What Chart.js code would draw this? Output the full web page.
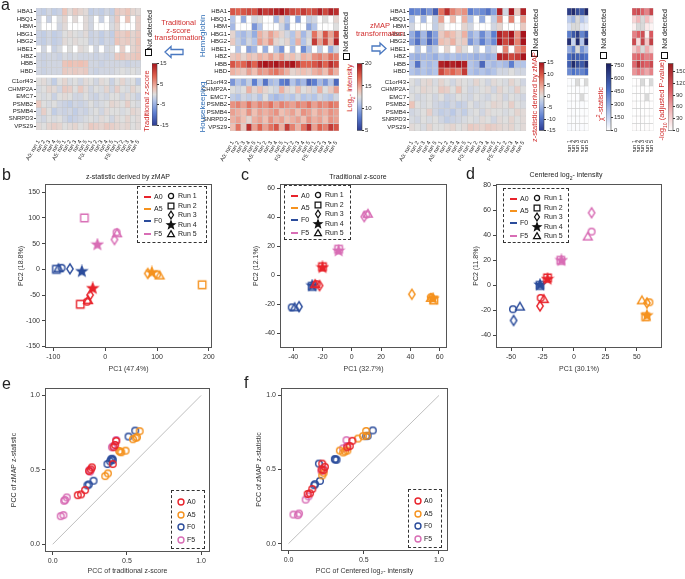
<!DOCTYPE html>
<html>
<head>
<meta charset="utf-8">
<script src="https://cdn.jsdelivr.net/npm/chart.js@4/dist/chart.umd.min.js"></script>
<style>
body{margin:0;width:685px;height:579px;position:relative;overflow:hidden;background:#fff;font-family:"Liberation Sans",Arial,sans-serif;}
canvas{position:absolute;}
.t{position:absolute;white-space:nowrap;font-size:7px;color:#222;line-height:1;}
.lg{position:absolute;border:1px dashed #333;box-sizing:border-box;}
.nd{position:absolute;width:5px;height:5px;border:1px solid #111;background:#fff;}
</style>
</head>
<body>
<script>
// ---- heatmap data (panel a) ----
const cols = ['A0: run 1','run 2','run 3','run 4','run 5','A5: run 1','run 2','run 3','run 4','run 5',
              'F0: run 1','run 2','run 3','run 4','run 5','F5: run 1','run 2','run 3','run 4','run 5'];
const runs = ['run 1','run 2','run 3','run 4','run 5'];
const hemoGenes = ['HBA1','HBQ1','HBM','HBG1','HBG2','HBE1','HBZ','HBB','HBD'];
const houseGenes = ['C1orf43','CHMP2A','EMC7','PSMB2','PSMB4','SNRPD3','VPS29'];

const tradHemo = [
  [-1.5,-2,-1,-2,-1.5, 2.5,0.5,2,1,0.5, -2,-1.5,-2,-1,-2, 2,1.5,2.5,1,0.5],
  [-1,null,-1.5,null,-0.5, 1,null,0.5,null,0.5, -1,null,-1.5,null,-1, 2,null,2.5,null,1.5],
  [-0.5,null,null,null,-1, 0.5,null,null,null,0.5, -1,null,null,null,-0.5, 1,null,null,null,1.5],
  [-1.5,-2,-1,-2,-1.5, 0,0.5,0,-0.5,0.5, -1.5,-1,-2,-1,-2, 2,1.5,2.5,1,2],
  [-1.5,-2,-1,-2,-1.5, 0.5,0,0.5,0,0, -1.5,-1,-2,-1,-1.5, 2.5,1.5,2,1,2.5],
  [null,-1,null,-1.5,-0.5, null,0,null,0.5,0, null,-1,null,-1,-0.5, null,1.5,null,1,2],
  [-1,-1.5,-1,-1,-1.5, -0.5,-1,-0.5,-1,-1, -1,-1.5,-1,-1.5,-1, 2,2.5,1.5,2,2.5],
  [-1,-1.5,-1,-1,-1, 2.5,3,2.5,3,2.5, -1,-1,-1.5,-1,-1, -1,-1,-1.5,-1,-1],
  [-1,-1.5,-1,-1,-1, 2,1.5,2,1.5,2, -1,-1.5,-1,-1,-1, -0.5,0,-0.5,0,-0.5]
];
const tradHouse = [
  [0,0.5,-0.5,-2,0, 1,-0.5,0,-1,0.5, 0,-1,0.5,0,-1.5, 0,1,-0.5,0,-2],
  [-0.5,0,1,0.5,-1, 2,1.5,0,2,0.5, -1,0,-0.5,1,-1, 1.5,0,-0.5,1,0],
  [0,-0.5,0,-1.5,0, 0.5,0,-1,-1,0, -1,-1.5,-0.5,-1,0, 0,-1,0.5,-0.5,-1.5],
  [2,0,-0.5,0,-1, -1.5,-2,-1,-1.5,-1, 0,-1,-0.5,0,1, 0.5,0,1.5,0,-0.5],
  [-1,1.5,0,-2,-1, -1.5,-1,-2,-1,-1.5, -0.5,0,-1,0.5,0, 0,-0.5,0,1,0.5],
  [-0.5,-1,0,-0.5,0, -1,-2,-1.5,-1,-0.5, 0,-0.5,0.5,0,-1, 0.5,0,1,0,0.5],
  [0.5,0,1,1.5,1, 0,0.5,1,0,0.5, 2,1.5,1,2,1.5, 1,0.5,1,0,0.5]
];
const intHemo = [
  [17.5,17,17.5,18,17.5, 19.5,18.5,19,19.5,20, 19,18,17.5,18.5,17.5, 18,19.5,18,19.5,19],
  [11,null,10,null,12, 12.5,null,null,10.5,13, 11,null,9.5,null,11.5, 12,null,12.5,null,13],
  [10.5,null,null,null,9, 11,null,null,null,12, 10,null,null,null,9.5, 11,null,null,null,12.5],
  [13,11,10.5,11.5,10, 14.5,13.5,15,14,13, 12,11,13.5,10.5,12, 16.5,14,17.5,15,18],
  [13.5,11.5,10.5,12,11, 15,14,15.5,13,12.5, 13,11,14.5,11,12.5, 18.5,15,18,14.5,19.5],
  [null,11,null,9.5,10.5, null,10,null,11,9, null,10.5,null,8.5,11, null,11.5,null,10,12],
  [13.5,14,13,14,13.5, 14.5,14,15,14,15, 13.5,14,13,14.5,14, 15.5,16,15,16.5,16],
  [17.5,16.5,17,18.5,17, 19.5,20,19.5,20,19, 19.5,20,18.5,17,17, 17.5,18.5,17,19,18],
  [14.5,14,13.5,15,14, 15.5,15,16,16.5,15.5, 14.5,13,13.5,14,13.5, 14.5,15,14,16,14.5]
];
const intHouse = [
  [9,11,10,11.5,8, 11,7.5,10.5,11,8, 7.5,11,9.5,10.5,7, 8,10.5,9,11,7],
  [12.5,12,12.5,14.5,13, 14,13,12.5,12,14.5, 13,12.5,14,12.5,13, 12,14.5,12.5,13.5,15],
  [11.5,11,12,11.5,12, 11,12.5,11,10.5,11, 11.5,11,12,11,11.5, 11,12,11.5,11,12],
  [15.5,16,15,16.5,15, 16,15.5,16.5,15,16, 15.5,15,16,15.5,16.5, 15,16,15.5,16.5,16],
  [15,14.5,14,15.5,14, 15,14.5,15,15.5,14, 14.5,15,14,15.5,15, 14,15,14.5,15.5,15],
  [14.5,15,14,13,14.5, 15,14,15.5,14.5,15, 14,14.5,15,14,15.5, 14.5,15,14,15.5,15],
  [14,16.5,13.5,19,15, 17,15,16.5,17.5,14.5, 18.5,16,14.5,16.5,19, 15,17,16,18.5,17.5]
];
const zHemo = [
  [-9,-8,-10,-7,-12, 8,13,7,5,6, -9,-7,-8,-10,-6, 14,-1,15,2,14],
  [-3,null,-4,null,-2, 5,null,3,null,4, -3,null,-5,null,-2, 6,null,7,null,5],
  [-1,null,null,null,-2, 0.5,null,null,null,1, -1,null,null,null,-1, 1,null,null,null,2],
  [-5,-9,-4,-10,-6, 2,4,3,1,4, -5,-3,-8,-4,-9, 14,12,15,6,15],
  [-6,-10,-5,-11,-7, 3,2,4,1,2, -7,-4,-9,-5,-8, 15,11,14,7,15],
  [null,-3,null,-4,-2, null,1,null,2,0, null,-2,null,-3,-1, null,7,null,6,8],
  [-4,-5,-4,-4,-5, -3,-4,-3,-4,-4, -4,-5,-4,-5,-4, 14,13,11,12,15],
  [-3,-10,-3,-4,-3, 14,15,14,15,14, -3,-4,-11,-3,-4, -3,-4,-9,-3,-3],
  [-3,-4,-3,-4,-3, 11,8,9,7,12, -3,-4,-3,-4,-3, -1,-1,0,-1,-1]
];
const zHouse = [
  [0,-1,0.5,1,-0.5, 1,0,-1,0.5,0, -0.5,1,0,-1,0.5, 0,-0.5,1,0,-1],
  [-0.5,0,1,0.5,0, 2,1.5,0,2.5,0, -1,-0.5,0,0.5,-1, 1,0,-0.5,1.5,0],
  [0,-1,-0.5,0,-1, 0,-1.5,-1,0,-0.5, -1,0,-0.5,-1,0, 0.5,-1,0,-0.5,-1],
  [2.5,0,-0.5,0,-1, -1.5,-2,-1,-2,-1.5, 0,-1,-0.5,0,1, 0.5,0,1.5,0,-0.5],
  [-1,-0.5,0,1.5,-1, -2,-1.5,-2.5,-1,-2, -0.5,0,-1,0.5,0, 0,-0.5,0,1,0.5],
  [-0.5,-1,0,-0.5,0, -1,-2,-1.5,-1,-0.5, 0,-0.5,0.5,0,-1, 0.5,0,1,0,0.5],
  [0.5,0,-0.5,1,0, 0,0.5,1,0,0.5, 2,1.5,1,2,1.5, 1,0.5,1,0,0.5]
];
const chiHemo = [
  [650,720,600,560,740],
  [180,250,null,200,120],
  [100,null,null,80,60],
  [420,550,650,400,550],
  [700,150,720,200,750],
  [280,400,null,350,250],
  [480,560,520,500,460],
  [520,720,600,550,700],
  [380,460,420,400,480]
];
const chiHouse = [
  [10,15,null,8,null],
  [5,8,10,6,12],
  [8,6,12,null,9],
  [12,6,8,10,5],
  [6,10,5,8,7],
  [9,7,11,6,8],
  [15,10,12,14,10]
];
const pHemo = [
  [110,120,100,80,125],
  [30,50,null,45,20],
  [10,null,null,15,8],
  [80,100,115,10,105],
  [120,25,125,40,130],
  [35,60,null,55,30],
  [90,100,95,80,85],
  [95,145,110,100,120],
  [70,85,75,60,80]
];
const pHouse = [
  [1,2,null,1,null],
  [0,1,1,0,2],
  [1,0,2,null,1],
  [2,0,1,1,0],
  [0,1,0,1,1],
  [1,1,2,0,1],
  [2,1,1,2,1]
];
const zTicks = [15,10,5,0,-5,-10,-15];
const intTicks = [20,15,10,5];
const chiTicks = [750,600,450,300,150,0];
const pTicks = [150,120,90,60,30,0];

// ---- PCA data (panels b-d), runs 1..5 per condition ----
const conds = ['A0','A5','F0','F5'];
const pcaB_A0 = [[-35,-63],[-48,-68],[-29,-50],[-24,-37],[-33,-60]];
const pcaB_A5 = [[100,-10],[187,-30],[82,-8],[90,-6],[105,-12]];
const pcaB_F0 = [[-84,3],[-94,0],[-68,1],[-45,-4],[-90,2]];
const pcaB_F5 = [[22,72],[-40,100],[18,58],[-15,48],[23,70]];
const pcaC_A0 = [[-24,-6],[-20,6],[-22,-7],[-20,5.5],[-25,-6]];
const pcaC_A5 = [[54,-15],[56,-17],[41,-13],[55.5,-16],[54,-15.5]];
const pcaC_F0 = [[-41,-22],[-27,-7.5],[-36,-21.5],[-27,-7],[-39,-22]];
const pcaC_F5 = [[10,42],[-9,18],[8.5,40.5],[-9,17],[11,42.5]];
const pcaD_A0 = [[-26.5,-10],[-21,6],[-27,-16.5],[-21,5],[-24,-11]];
const pcaD_A5 = [[60,-13.5],[57,-25],[58,-14],[58,-24],[54,-12]];
const pcaD_F0 = [[-48.5,-19],[-27,0],[-48,-28],[-27,0.5],[-43,-17]];
const pcaD_F5 = [[14,43],[-10.5,20],[14,58],[-10,20],[11,39]];

// ---- PCC data (panels e, f) ----
const pccE_A0 = [[.169,.330],[.191,.335],[.218,.364],[.245,.492],[.264,.517],[.257,.503],[.405,.539],[.410,.652],[.428,.694],[.421,.667]];
const pccE_A5 = [[.354,.458],[.372,.476],[.448,.627],[.462,.618],[.491,.629],[.541,.706],[.568,.719],[.586,.760],[.455,.622],[.559,.715]];
const pccE_F0 = [[.556,.764],[.511,.724],[.394,.571],[.405,.566],[.369,.539],[.275,.427],[.243,.402],[.234,.396],[.401,.575],[.387,.557]];
const pccE_F5 = [[.054,.189],[.072,.196],[.077,.292],[.095,.315],[.083,.297],[.252,.488],[.248,.499],[.399,.652],[.410,.661],[.428,.701]];
const pccF_A0 = [[.127,.335],[.143,.339],[.158,.368],[.224,.540],[.242,.518],[.220,.500],[.232,.495],[.407,.659],[.424,.694],[.391,.650]];
const pccF_A5 = [[.233,.478],[.224,.460],[.341,.628],[.363,.615],[.391,.628],[.462,.709],[.495,.725],[.516,.760],[.375,.622],[.520,.728]];
const pccF_F0 = [[.560,.764],[.516,.725],[.526,.727],[.308,.570],[.319,.566],[.202,.540],[.209,.423],[.176,.401],[.171,.394],[.312,.568]];
const pccF_F5 = [[.033,.196],[.062,.192],[.070,.203],[.114,.297],[.132,.319],[.220,.489],[.389,.659],[.385,.698],[.363,.643],[.235,.500]];
const diag = [[0,0],[1,1]];
const pccTicks = [0, 0.5, 1];

const colA0 = '#e8232b', colA5 = '#f5921e', colF0 = '#2b4c9b', colF5 = '#d86db5';
const condCols = [colA0, colA5, colF0, colF5];

Chart.defaults.font.family = '"Liberation Sans", Arial, sans-serif';
Chart.defaults.color = '#222';
Chart.defaults.animation = false;
Chart.defaults.responsive = false;
Chart.defaults.plugins.legend.display = false;
Chart.defaults.plugins.tooltip.enabled = false;

function addCanvas(left, top, w, h) {
  const c = document.createElement('canvas');
  c.width = w; c.height = h;
  c.style.left = left + 'px'; c.style.top = top + 'px';
  document.body.appendChild(c);
  return c.getContext('2d');
}

function hex(c) { return [1,3,5].map(i => parseInt(c.substr(i,2),16)); }
function ramp(stops) {
  return t => {
    t = Math.max(0, Math.min(1, t));
    for (let i = 1; i < stops.length; i++) {
      if (t <= stops[i][0]) {
        const a = hex(stops[i-1][1]), b = hex(stops[i][1]);
        const f = (t - stops[i-1][0]) / (stops[i][0] - stops[i-1][0]);
        return 'rgb(' + a.map((v,k) => Math.round(v + (b[k]-v)*f)).join(',') + ')';
      }
    }
    return stops[stops.length-1][1];
  };
}
const divStops = [[0,'#2c3c94'],[0.2,'#5d7ed0'],[0.4,'#b3c4e8'],[0.5,'#dedede'],[0.6,'#efbfb2'],[0.8,'#e0624f'],[1,'#a8141c']];
const blueStops = [[0,'#ffffff'],[0.3,'#a9bde8'],[0.6,'#4a6fc6'],[1,'#1a1f5e']];
const redStops = [[0,'#ffffff'],[0.3,'#f2b6b8'],[0.6,'#dc5b62'],[1,'#9c1b1f']];
const div = ramp(divStops), blues = ramp(blueStops), reds = ramp(redStops);

// row positions: hemoglobin block, small gap, housekeeping block
const rowPos = hemoGenes.map((g,i) => i).concat(houseGenes.map((g,i) => 9.4 + i));
const rowNames = hemoGenes.concat(houseGenes);

function heatmap(o) {
  const ctx = addCanvas(o.left, o.top, o.w, o.h);
  const rows = o.hemo.concat(o.house);
  new Chart(ctx, {
    type: 'bar',
    data: {
      labels: o.labels,
      datasets: rows.map((vals, r) => ({
        data: vals.map(() => [rowPos[r] - 0.5, rowPos[r] + 0.5]),
        backgroundColor: vals.map(v => v == null ? o.na : o.cmap(v)),
        borderColor: '#c4c4c4', borderWidth: 0.5, borderSkipped: false,
        barPercentage: 1, categoryPercentage: 1, grouped: false
      }))
    },
    options: {
      layout: { padding: { top: o.padT, right: o.padR, left: o.padL || 0 } },
      scales: {
        x: {
          grid: { display: false }, border: { display: false },
          ticks: { autoSkip: false, minRotation: o.rot, maxRotation: o.rot, font: { size: 5.5 }, padding: 1, color: '#222' },
          afterFit: s => { s.height = o.xH; }
        },
        y: {
          type: 'linear', reverse: true, min: -0.5, max: 15.9, display: o.yW > 0,
          grid: { drawOnChartArea: false, tickLength: 2, color: '#444' }, border: { display: false },
          afterBuildTicks: s => { s.ticks = rowPos.map(v => ({ value: v })); },
          ticks: { autoSkip: false, font: { size: 6 }, padding: 1, color: '#222', callback: (v, i) => rowNames[i] },
          afterFit: s => { s.width = o.yW; }
        }
      }
    }
  });
}

function colorbar(o) {
  const ctx = addCanvas(o.left, o.top, o.w, o.h);
  new Chart(ctx, {
    type: 'scatter',
    data: { datasets: [] },
    options: {
      layout: { padding: { top: 3, bottom: 3, left: 0 } },
      scales: {
        x: { display: false },
        y: {
          position: 'right', min: o.min, max: o.max,
          grid: { drawOnChartArea: false, tickLength: 2, color: '#333' }, border: { display: false },
          afterBuildTicks: s => { s.ticks = o.ticks.map(v => ({ value: v })); },
          ticks: { font: { size: 6 }, padding: 1, color: '#333' },
          afterFit: s => { s.width = o.w - 5; }
        }
      }
    },
    plugins: [{
      id: 'cbar',
      beforeDraw(chart) {
        const a = chart.chartArea, g = chart.ctx;
        const gr = g.createLinearGradient(0, a.bottom, 0, a.top);
        o.stops.forEach(s => gr.addColorStop(s[0], s[1]));
        g.save();
        g.fillStyle = gr;
        g.fillRect(a.left, a.top, a.right - a.left, a.bottom - a.top);
        g.strokeStyle = '#444'; g.lineWidth = 0.6;
        g.strokeRect(a.left, a.top, a.right - a.left, a.bottom - a.top);
        g.restore();
      }
    }]
  });
}

function marker(shape, color, k) {
  k = k || 1;
  const s = 14, m = s / 2, c = document.createElement('canvas');
  c.width = s; c.height = s;
  const g = c.getContext('2d');
  g.strokeStyle = color; g.fillStyle = color; g.lineWidth = 1.4 * Math.min(1, k + 0.1);
  g.beginPath();
  if (shape === 'circle') g.arc(m, m, 3.3 * k, 0, 2 * Math.PI);
  else if (shape === 'square') g.rect(m - 3.7 * k, m - 3.7 * k, 7.4 * k, 7.4 * k);
  else if (shape === 'diamond') { g.moveTo(m, m - 5 * k); g.lineTo(m + 3.2 * k, m); g.lineTo(m, m + 5 * k); g.lineTo(m - 3.2 * k, m); g.closePath(); }
  else if (shape === 'triangle') { g.moveTo(m, m - 4.3 * k); g.lineTo(m + 4.4 * k, m + 3.3 * k); g.lineTo(m - 4.4 * k, m + 3.3 * k); g.closePath(); }
  else if (shape === 'star') {
    for (let i = 0; i < 10; i++) {
      const r = (i % 2 ? 2.2 : 5.2) * k, a = -Math.PI / 2 + i * Math.PI / 5;
      g.lineTo(m + r * Math.cos(a), m + r * Math.sin(a));
    }
    g.closePath(); g.fill();
  }
  g.stroke();
  return c;
}
const runShapes = ['circle', 'square', 'diamond', 'star', 'triangle'];

const frame = {
  id: 'frame',
  afterDraw(c) {
    const a = c.chartArea, g = c.ctx;
    g.save(); g.strokeStyle = '#555'; g.lineWidth = 1;
    g.strokeRect(a.left + 0.5, a.top + 0.5, a.right - a.left - 1, a.bottom - a.top - 1);
    g.restore();
  }
};

function axis(r, t, title, dec, dir, size) {
  return {
    min: r[0], max: r[1],
    grid: { drawOnChartArea: false, tickLength: 3, color: '#444' }, border: { display: false },
    afterBuildTicks: s => { s.ticks = t.map(v => ({ value: v })); },
    ticks: { font: { size: 7 }, color: '#333', padding: 2, callback: v => dec ? v.toFixed(1) : v },
    title: { display: true, text: title, font: { size: 7 }, color: '#333', padding: { top: 2, bottom: 0 } },
    afterFit: s => { if (dir === 'x') s.height = size; else s.width = size; }
  };
}

function scatter(o) {
  const ctx = addCanvas(o.left, o.top, o.w, o.h);
  const datasets = o.sets.map((pts, k) => ({
    data: pts.map(p => ({ x: p[0], y: p[1] })),
    pointStyle: pts.map((p, i) => marker(o.shapes ? o.shapes[i] : 'circle', condCols[k])),
    pointRadius: 4, order: 1
  }));
  if (o.diag) datasets.push({
    data: o.diag.map(p => ({ x: p[0], y: p[1] })), showLine: true,
    borderColor: '#b8b8b8', borderWidth: 0.9, pointRadius: 0, order: 5
  });
  new Chart(ctx, {
    type: 'scatter',
    data: { datasets },
    options: {
      layout: { padding: { top: o.padT, right: o.padR, left: o.padL } },
      scales: {
        x: axis(o.xr, o.xt, o.xTitle, o.dec, 'x', o.xH),
        y: axis(o.yr, o.yt, o.yTitle, o.dec, 'y', o.yW)
      }
    },
    plugins: [frame]
  });
}

function text(html, left, top, css) {
  const d = document.createElement('div');
  d.className = 't'; d.innerHTML = html;
  d.style.left = left + 'px'; d.style.top = top + 'px';
  if (css) d.style.cssText += css;
  document.body.appendChild(d);
  return d;
}
function ctext(html, cx, cy, css) { return text(html, cx, cy, 'transform:translate(-50%,-50%);' + (css || '')); }
function vtext(html, cx, cy, css) { return text(html, cx, cy, 'transform:translate(-50%,-50%) rotate(-90deg);' + (css || '')); }
function ndBox(left, top) { const d = document.createElement('div'); d.className = 'nd'; d.style.left = left + 'px'; d.style.top = top + 'px'; document.body.appendChild(d); }

function pcaLegend(left, top, w, h) {
  const b = document.createElement('div');
  b.className = 'lg';
  b.style.cssText += `left:${left}px;top:${top}px;width:${w}px;height:${h}px;`;
  document.body.appendChild(b);
  const cy = [10, 21.5, 34, 46.5], ry = [9, 18.5, 28, 37.5, 47];
  conds.forEach((c, i) => {
    const l = document.createElement('div');
    l.style.cssText = `position:absolute;left:6px;top:${cy[i] - 1}px;width:7px;height:2px;background:${condCols[i]}`;
    b.appendChild(l);
    const t = text(c, 16, cy[i] - 4); b.appendChild(t);
  });
  runShapes.forEach((s, i) => {
    const m = marker(s, '#111', 0.78);
    m.style.left = (33 - 7) + 'px'; m.style.top = (ry[i] - 7) + 'px';
    b.appendChild(m);
    const t = text('Run ' + (i + 1), 40, ry[i] - 4); b.appendChild(t);
  });
}
function pccLegend(left, top) {
  const b = document.createElement('div');
  b.className = 'lg';
  b.style.cssText += `left:${left}px;top:${top}px;width:34px;height:59px;`;
  document.body.appendChild(b);
  const ys = [11, 23.5, 36, 48.5];
  conds.forEach((c, i) => {
    const m = marker('circle', condCols[i], 0.9);
    m.style.left = (9 - 7) + 'px'; m.style.top = (ys[i] - 7) + 'px';
    b.appendChild(m);
    const t = text(c, 15, ys[i] - 4); b.appendChild(t);
  });
}

// ---------- panel a ----------
heatmap({ left: 0, top: 2, w: 145, h: 160, yW: 36, padR: 2, padT: 6, xH: 32, rot: 60,
  labels: cols, hemo: tradHemo, house: tradHouse, cmap: v => div((v + 15) / 30), na: '#ffffff' });
heatmap({ left: 196, top: 2, w: 147, h: 160, yW: 34, padR: 2, padT: 6, xH: 31, rot: 60,
  labels: cols, hemo: intHemo, house: intHouse, cmap: v => div((v - 5) / 15), na: '#ffffff' });
heatmap({ left: 378, top: 2, w: 152, h: 160, yW: 31, padR: 2, padT: 6, xH: 31, rot: 60,
  labels: cols, hemo: zHemo, house: zHouse, cmap: v => div((v + 15) / 30), na: '#ffffff' });
heatmap({ left: 566, top: 2, w: 28, h: 150, yW: 0, padL: 1, padR: 1, padT: 6, xH: 21, rot: 90,
  labels: runs, hemo: chiHemo, house: chiHouse, cmap: v => blues(v / 770), na: '#d9d9d9' });
heatmap({ left: 631, top: 2, w: 28, h: 150, yW: 0, padL: 1, padR: 1, padT: 6, xH: 21, rot: 90,
  labels: runs, hemo: pHemo, house: pHouse, cmap: v => reds(v / 170), na: '#d9d9d9' });

colorbar({ left: 152, top: 59, w: 20, h: 71, min: -15, max: 15, ticks: zTicks, stops: divStops });
colorbar({ left: 357, top: 59, w: 20, h: 76, min: 5, max: 20, ticks: intTicks, stops: divStops });
colorbar({ left: 539, top: 58, w: 20, h: 77, min: -15, max: 15, ticks: zTicks, stops: divStops });
colorbar({ left: 606, top: 59, w: 22, h: 76, min: 0, max: 770, ticks: chiTicks, stops: blueStops });
colorbar({ left: 668, top: 59, w: 17, h: 76, min: 0, max: 170, ticks: pTicks, stops: redStops });

const red = 'color:#d12e2e;', blu = 'color:#2f6db5;';
text('a', 1, -3, 'font-size:16px;');
[[149, 30, 145, 49], [345, 32, 343, 53], [534.5, 29, 531, 50], [602.5, 29, 600, 52], [664, 29, 661, 52]].forEach(p => {
  vtext('Not detected', p[0], p[1], 'font-size:7px;');
  ndBox(p[2], p[3]);
});
vtext('Traditional z-score', 146.5, 101, 'font-size:7.5px;' + red);
vtext('Log<sub style="font-size:5px">2</sub>- intensity', 351, 88, 'font-size:7.5px;' + red);
vtext('z-statistic derived by zMAP', 534.5, 97, 'font-size:7.5px;' + red);
vtext('χ<sup style="font-size:5px">2</sup>-statistic', 600, 104, 'font-size:7.5px;' + red);
vtext('-log<sub style="font-size:5px">10</sub> (adjusted P-value)', 663, 100, 'font-size:7.5px;' + red);
vtext('Hemoglobin', 203, 36, 'font-size:8px;' + blu);
vtext('Housekeeping', 202.5, 107, 'font-size:8px;' + blu);
ctext('Traditional<br>z-score<br>transformation', 178.5, 30, 'font-size:7.5px;line-height:7.5px;text-align:center;' + red);
ctext('zMAP<br>transformation', 380, 29, 'font-size:7.5px;line-height:7.5px;text-align:center;' + red);
document.body.insertAdjacentHTML('beforeend',
  '<svg style="position:absolute;left:0;top:0" width="685" height="160">' +
  '<polygon points="165,52 171,46.5 171,49.5 183,49.5 183,54.5 171,54.5 171,57.5" fill="#fff" stroke="#4a78c0" stroke-width="1.3"/>' +
  '<polygon points="386,48.5 380,43 380,46 372,46 372,51 380,51 380,54" fill="#fff" stroke="#4a78c0" stroke-width="1.3"/>' +
  '</svg>');

// ---------- panels b-d ----------
scatter({ left: 0, top: 170, w: 220, h: 203, padL: 15, yW: 30, padR: 8, padT: 14, xH: 25,
  sets: [pcaB_A0, pcaB_A5, pcaB_F0, pcaB_F5], shapes: runShapes,
  xr: [-116, 206], yr: [-153, 166], xt: [-100, 0, 100, 200], yt: [-150, -100, -50, 0, 50, 100, 150],
  xTitle: 'PC1 (47.4%)', yTitle: 'PC2 (18.8%)' });
scatter({ left: 235, top: 170, w: 220, h: 203, padL: 15, yW: 30, padR: 8, padT: 14, xH: 25,
  sets: [pcaC_A0, pcaC_A5, pcaC_F0, pcaC_F5], shapes: runShapes,
  xr: [-49, 65], yr: [-50, 63], xt: [-40, -20, 0, 20, 40, 60], yt: [-40, -20, 0, 20, 40, 60],
  xTitle: 'PC1 (32.7%)', yTitle: 'PC2 (12.1%)' });
scatter({ left: 455, top: 170, w: 230, h: 203, padL: 15, yW: 26, padR: 23, padT: 14, xH: 25,
  sets: [pcaD_A0, pcaD_A5, pcaD_F0, pcaD_F5], shapes: runShapes,
  xr: [-62, 70], yr: [-50, 81], xt: [-50, -25, 0, 25, 50], yt: [-40, -20, 0, 20, 40, 60, 80],
  xTitle: 'PC1 (30.1%)', yTitle: 'PC2 (11.8%)' });
text('b', 2, 167, 'font-size:16px;');
text('c', 241, 167, 'font-size:16px;');
text('d', 466, 166, 'font-size:16px;');
ctext('z-statistic derived by zMAP', 128, 176);
ctext('Traditional z-score', 358, 176);
ctext('Centered log<sub style="font-size:5px">2</sub>- intensity', 566, 176);
pcaLegend(137, 186, 70, 57);
pcaLegend(284, 185, 67, 55);
pcaLegend(503, 188, 66, 55);

// ---------- panels e, f ----------
scatter({ left: 0, top: 378, w: 225, h: 197, padL: 8, yW: 37, padR: 15, padT: 10, xH: 23, dec: true,
  sets: [pccE_A0, pccE_A5, pccE_F0, pccE_F5], diag: diag,
  xr: [-0.052, 1.06], yr: [-0.052, 1.05], xt: pccTicks, yt: pccTicks,
  xTitle: 'PCC of traditional z-score', yTitle: 'PCC of zMAP z-statistic' });
scatter({ left: 235, top: 378, w: 225, h: 197, padL: 18, yW: 28, padR: 12, padT: 10, xH: 24, dec: true,
  sets: [pccF_A0, pccF_A5, pccF_F0, pccF_F5], diag: diag,
  xr: [-0.05, 1.06], yr: [-0.05, 1.05], xt: pccTicks, yt: pccTicks,
  xTitle: 'PCC of Centered log\u2082- intensity', yTitle: 'PCC of zMAP z-statistic' });
text('e', 2, 376, 'font-size:16px;');
text('f', 244, 375, 'font-size:16px;');
pccLegend(171, 490);
pccLegend(408, 489);
</script>
</body>
</html>
